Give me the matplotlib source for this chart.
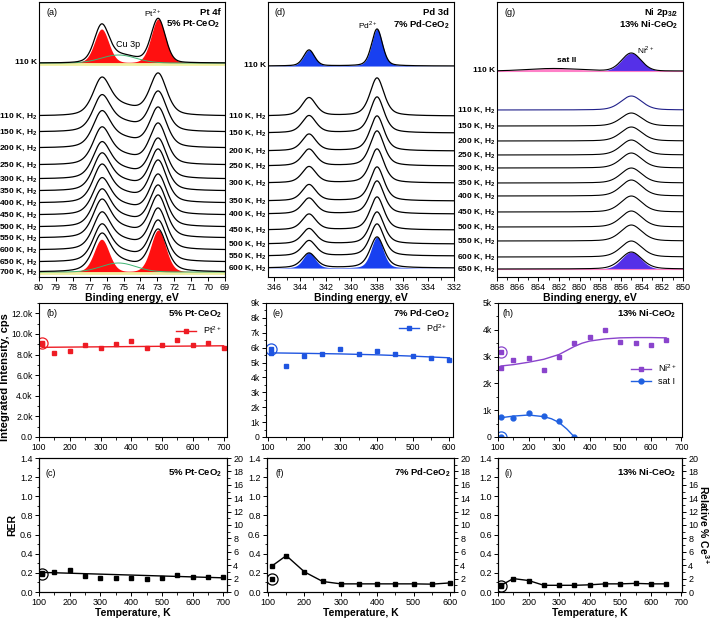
import numpy as np
import matplotlib
matplotlib.use("Agg")
import matplotlib.pyplot as plt
import matplotlib.transforms as mtransforms
from matplotlib.lines import Line2D
from matplotlib.ticker import MultipleLocator, FuncFormatter

plt.rcParams["font.family"] = ["Liberation Sans", "DejaVu Sans"]
plt.rcParams["mathtext.fontset"] = "custom"
plt.rcParams["mathtext.rm"] = "Liberation Sans"
plt.rcParams["mathtext.bf"] = "Liberation Sans:bold"
plt.rcParams["axes.linewidth"] = 0.8

# ---------------- top row : XPS spectra (peak positions / heights)
PT_STACK_T = [110, 150, 200, 250, 300, 350, 400, 450, 500, 550, 600, 650, 700]
PT_OFFSET = [161, 145, 129, 112, 98, 86, 74, 62, 50, 39, 27, 15, 5]
PT_PEAK_H = [42, 40, 40, 41, 40, 41, 42, 40, 41, 42, 41, 41, 42]
PT_TOP_OFFSET = 214
PT_POS = [76.3, 72.95]          # Pt 4f5/2, Pt 4f7/2
PT_TOP_H = [34, 44]
CU_POS, CU_H = 75.3, 8

PD_STACK_T = [110, 150, 200, 250, 300, 350, 400, 450, 500, 550, 600]
PD_OFFSET = [161, 144, 126, 111, 94, 76, 63, 47, 33, 21, 9]
PD_PEAK_H = [38, 36, 35, 35, 34, 34, 33, 33, 32, 32, 31]
PD_TOP_OFFSET = 211
PD_POS = [343.3, 338.0]         # Pd 3d3/2, Pd 3d5/2
PD_TOP_H = [16, 37]

NI_STACK_T = [110, 150, 200, 250, 300, 350, 400, 450, 500, 550, 600, 650]
NI_OFFSET = [167, 151, 136, 122, 109, 94, 81, 65, 50, 36, 20, 8]
NI_PEAK_H = [14, 13, 14, 15, 15, 15, 16, 16, 16, 16, 16, 17]
NI_TOP_OFFSET = 206
NI_POS, NI_TOP_H = 855.0, 18
SAT2_POS, SAT2_H = 862.5, 2.5

# ---------------- middle row : integrated intensity, cps
PT_T = [110, 150, 200, 250, 300, 350, 400, 450, 500, 550, 600, 650, 700]
PT_INT = [9000, 8150, 8350, 8900, 8650, 9050, 9300, 8650, 8900, 9450, 8950, 9100, 8650]
PT_INT_REF = 9100
PT_FIT_T = [110, 700]
PT_FIT = [8700, 8850]

PD_T = [110, 150, 200, 250, 300, 350, 400, 450, 500, 550, 600]
PD_INT = [5650, 4800, 5450, 5600, 5900, 5550, 5800, 5550, 5450, 5300, 5150]
PD_INT_REF = 5900
PD_FIT_T = [110, 200, 300, 400, 500, 600]
PD_FIT = [5650, 5620, 5580, 5520, 5430, 5320]

NI_T = [110, 150, 200, 250, 300, 350, 400, 450, 500, 550, 600, 650]
NI_INT = [2580, 2870, 2950, 2500, 3000, 3520, 3720, 3980, 3550, 3500, 3430, 3620]
NI_INT_REF = 3180
NI_FIT_T = [110, 150, 200, 250, 300, 325, 350, 375, 400, 450, 500, 550, 600, 650]
NI_FIT = [2650, 2700, 2790, 2900, 3080, 3230, 3380, 3500, 3580, 3660, 3700, 3710, 3710, 3700]

SAT_T = [110, 150, 200, 250, 300, 350]
SAT_INT = [750, 720, 880, 780, 600, 0]
SAT_INT_REF = 0
SAT_FIT_T = [110, 150, 200, 250, 275, 300, 325, 350]
SAT_FIT = [720, 780, 820, 760, 680, 540, 300, 0]

# ---------------- bottom row : RER
PT_RER = [0.20, 0.21, 0.225, 0.17, 0.145, 0.145, 0.145, 0.14, 0.145, 0.18, 0.155, 0.155, 0.155]
PT_RER_REF = 0.19
PT_RER_FIT_T = [110, 700]
PT_RER_FIT = [0.205, 0.148]
PD_RER = [0.27, 0.38, 0.21, 0.11, 0.085, 0.085, 0.085, 0.085, 0.085, 0.082, 0.095]
PD_RER_REF = 0.14
NI_RER = [0.07, 0.14, 0.12, 0.07, 0.07, 0.07, 0.075, 0.085, 0.085, 0.09, 0.085, 0.085]
NI_RER_REF = 0.065

RED = "#ee1c24"
PD_BLUE = "#1f55e0"
PD_FILL = "#1840f0"
NI_PURPLE = "#8a44cc"
NI_FILL = "#5530e8"
SAT_BLUE = "#2060e0"
PINK = "#ff80c8"
GREEN = "#3cb371"

fig = plt.figure(figsize=(7.14, 6.19), dpi=100)
W, H = 714.0, 619.0


def rect(x0, y0, x1, y1):
    return [x0 / W, 1 - y1 / H, (x1 - x0) / W, (y1 - y0) / H]


def pv(e, center, height, fwhm, eta=0.3):
    x = 2.0 * (e - center) / fwhm
    return height * ((1 - eta) * np.exp(-np.log(2) * x ** 2) + eta / (1 + x ** 2))


def spec_axes(r, xlim, major, minor):
    ax = fig.add_axes(r)
    ax.set_xlim(*xlim)
    ax.set_ylim(0, 275)
    ax.set_yticks([])
    ax.xaxis.set_major_locator(MultipleLocator(major))
    if minor:
        ax.xaxis.set_minor_locator(MultipleLocator(minor))
    ax.tick_params(axis="x", labelsize=6.5, length=3, width=0.7, pad=1.5)
    ax.tick_params(axis="x", which="minor", length=1.8, width=0.6)
    ax.set_xlabel("Binding energy, eV", fontsize=7.5, fontweight="bold", labelpad=0.5)
    return ax


def stack_labels(ax, offsets, temps, top_offset):
    tr = mtransforms.blended_transform_factory(ax.transAxes, ax.transData)
    kw = dict(transform=tr, ha="right", va="center", fontsize=6, fontweight="bold")
    ax.text(-0.012, top_offset, "110 K", **kw)
    for off, t in zip(offsets, temps):
        ax.text(-0.012, off, f"{t} K, H$_\\mathbf{{2}}$", **kw)


def titles(ax, letter, line1, line2, y1, y2, xr=0.975, xl=0.04):
    ax.text(xl, y1, letter, transform=ax.transAxes, fontsize=6.5, va="center")
    if line1:
        ax.text(xr, y1, line1, transform=ax.transAxes, fontsize=6.8,
                fontweight="bold", ha="right", va="center")
    ax.text(xr, y2, line2, transform=ax.transAxes, fontsize=6.8,
            fontweight="bold", ha="right", va="center")


# ================= (a) Pt 4f
ax = spec_axes(rect(39, 2, 225, 277), (80, 69), 1, None)
E = np.linspace(80, 69, 700)
b = PT_TOP_OFFSET
p1 = pv(E, PT_POS[0], PT_TOP_H[0], 1.0, 0.2)
p2 = pv(E, PT_POS[1], PT_TOP_H[1], 1.0, 0.2)
cu = pv(E, CU_POS, CU_H, 2.4, 0.0)
ax.plot(E, np.full_like(E, b - 1.5), color="#f0f0a0", lw=2)
ax.fill_between(E, b, b + p1, color="#ff1010", lw=0)
ax.fill_between(E, b, b + p2, color="#ff1010", lw=0)
ax.plot(E, b + cu, color=GREEN, lw=0.7)
ax.plot(E, b + p1 + p2 + cu, color="k", lw=0.9)
for i, (off, h) in enumerate(zip(PT_OFFSET, PT_PEAK_H)):
    a1 = pv(E, PT_POS[0], 0.78 * h, 1.2, 0.45)
    a2 = pv(E, PT_POS[1], h, 1.2, 0.45)
    c = pv(E, CU_POS, 9, 2.4, 0.0)
    if i == len(PT_OFFSET) - 1:
        ax.plot(E, np.full_like(E, off - 1.5), color="#f0f0a0", lw=2)
        ax.fill_between(E, off, off + pv(E, PT_POS[0], 0.78 * h, 1.05, 0.2), color="#ff1010", lw=0)
        ax.fill_between(E, off, off + pv(E, PT_POS[1], h, 1.05, 0.2), color="#ff1010", lw=0)
        ax.plot(E, off + c, color=GREEN, lw=0.7)
    ax.plot(E, off + a1 + a2 + c, color="k", lw=0.9)
stack_labels(ax, PT_OFFSET, PT_STACK_T, PT_TOP_OFFSET)
titles(ax, "(a)", "Pt 4f", "5% Pt-CeO$_\\mathbf{2}$", 0.962, 0.918)
ax.text(73.3, 264, "Pt$^{2+}$", fontsize=6, ha="center", va="center")
ax.text(74.75, 232, "Cu 3p", fontsize=6.5, ha="center", va="center")

# ================= (d) Pd 3d
ax = spec_axes(rect(268, 2, 454, 277), (346.5, 332), 2, 1)
E = np.linspace(346.5, 332, 700)
b = PD_TOP_OFFSET
p1 = pv(E, PD_POS[0], PD_TOP_H[0], 1.0, 0.3)
p2 = pv(E, PD_POS[1], PD_TOP_H[1], 1.0, 0.3)
ax.fill_between(E, b, b + p1, color=PD_FILL, lw=0)
ax.fill_between(E, b, b + p2, color=PD_FILL, lw=0)
ax.plot(E, b + p1 + p2, color="k", lw=0.9)
for i, (off, h) in enumerate(zip(PD_OFFSET, PD_PEAK_H)):
    a1 = pv(E, PD_POS[0], 0.48 * h, 1.3, 0.5)
    a2 = pv(E, PD_POS[1], h, 1.3, 0.5)
    if i == len(PD_OFFSET) - 1:
        ax.fill_between(E, off, off + pv(E, PD_POS[0], 0.5 * h, 1.1, 0.3), color=PD_FILL, lw=0)
        ax.fill_between(E, off, off + pv(E, PD_POS[1], h, 1.1, 0.3), color=PD_FILL, lw=0)
    ax.plot(E, off + a1 + a2, color="k", lw=0.9)
stack_labels(ax, PD_OFFSET, PD_STACK_T, PD_TOP_OFFSET)
titles(ax, "(d)", "Pd 3d", "7% Pd-CeO$_\\mathbf{2}$", 0.962, 0.918, xl=0.035)
ax.text(338.7, 252, "Pd$^{2+}$", fontsize=6, ha="center", va="center")

# ================= (g) Ni 2p3/2
ax = spec_axes(rect(497, 2, 683, 277), (868, 850), 2, 1)
E = np.linspace(868, 850, 700)
b = NI_TOP_OFFSET
pk = pv(E, NI_POS, NI_TOP_H, 2.2, 0.1)
s2 = pv(E, SAT2_POS, SAT2_H, 6.0, 0.0)
ax.fill_between(E, b, b + s2, color=PINK, lw=0)
ax.fill_between(E, b, b + pk, color=NI_FILL, lw=0)
ax.plot(E, np.full_like(E, b), color=PINK, lw=0.8)
ax.plot(E, b + pk + s2, color="k", lw=0.8)
for i, (off, h) in enumerate(zip(NI_OFFSET, NI_PEAK_H)):
    y = off + pv(E, NI_POS, h, 2.4, 0.3)
    if i == len(NI_OFFSET) - 1:
        ax.fill_between(E, off, off + pv(E, NI_POS, h, 2.2, 0.1), color=NI_FILL, lw=0)
        ax.plot(E, np.full_like(E, off), color=PINK, lw=0.8)
    ax.plot(E, y, color="#20208a" if i == 0 else "k", lw=0.8)
stack_labels(ax, NI_OFFSET, NI_STACK_T, NI_TOP_OFFSET)
titles(ax, "(g)", "Ni 2p$_{\\mathbf{3/2}}$", "13% Ni-CeO$_\\mathbf{2}$", 0.962, 0.918)
ax.text(861.3, 216, "sat II", fontsize=6, fontweight="bold", ha="center", va="center")
ax.text(854.5, 227, "Ni$^{2+}$", fontsize=6, ha="left", va="center")


# ================= middle row
def mid_axes(r, xlim, ylim, ymajor, fmt):
    ax = fig.add_axes(r)
    ax.set_xlim(*xlim)
    ax.set_ylim(*ylim)
    ax.xaxis.set_major_locator(MultipleLocator(100))
    ax.xaxis.set_minor_locator(MultipleLocator(50))
    ax.yaxis.set_major_locator(MultipleLocator(ymajor))
    ax.yaxis.set_minor_locator(MultipleLocator(ymajor / 2))
    ax.yaxis.set_major_formatter(FuncFormatter(fmt))
    ax.tick_params(labelsize=6.2, length=3, width=0.7, pad=1.5)
    ax.tick_params(which="minor", length=1.8, width=0.6)
    return ax


fmt_b = lambda v, p: "0.0" if v == 0 else f"{v / 1000:.1f}k"
fmt_k = lambda v, p: "0" if v == 0 else f"{v / 1000:.0f}k"

ax = mid_axes(rect(39, 303, 227, 437), (100, 711), (0, 13000), 2000, fmt_b)
ax.plot(PT_FIT_T, PT_FIT, color=RED, lw=1)
ax.plot(PT_T, PT_INT, "s", color=RED, ms=3.5)
ax.plot([110], [PT_INT_REF], "s", color=RED, ms=3.5)
ax.plot([110], [PT_INT_REF], "o", mfc="none", mec=RED, ms=8, mew=0.9)
ax.legend([Line2D([], [], color=RED, marker="s", ms=3.5, lw=1)], ["Pt$^{2+}$"],
          loc="upper right", bbox_to_anchor=(1.0, 0.88), frameon=False,
          fontsize=6.5, handlelength=2.2, borderaxespad=0.2)
ax.set_ylabel("Integrated Intensity, cps", fontsize=8, fontweight="bold")
ax.yaxis.set_label_coords(-0.152, 0.45)
titles(ax, "(b)", None, "5% Pt-CeO$_\\mathbf{2}$", 0.918, 0.918)

ax = mid_axes(rect(266, 303, 453, 437), (95, 610), (0, 9000), 1000, fmt_k)
ax.plot(PD_FIT_T, PD_FIT, color=PD_BLUE, lw=1)
ax.plot(PD_T, PD_INT, "s", color=PD_BLUE, ms=3.5)
ax.plot([110], [PD_INT_REF], "s", color=PD_BLUE, ms=3.5)
ax.plot([110], [PD_INT_REF], "o", mfc="none", mec=PD_BLUE, ms=8, mew=0.9)
ax.legend([Line2D([], [], color=PD_BLUE, marker="s", ms=3.5, lw=1)], ["Pd$^{2+}$"],
          loc="upper right", bbox_to_anchor=(1.0, 0.9), frameon=False,
          fontsize=6.5, handlelength=2.2, borderaxespad=0.2)
titles(ax, "(e)", None, "7% Pd-CeO$_\\mathbf{2}$", 0.918, 0.918, xr=0.985, xl=0.037)

ax = mid_axes(rect(498, 303, 682, 437), (100, 702), (0, 5000), 1000, fmt_k)
ax.plot(NI_FIT_T, NI_FIT, color=NI_PURPLE, lw=1)
ax.plot(NI_T, NI_INT, "s", color=NI_PURPLE, ms=3.5)
ax.plot([110], [NI_INT_REF], "s", color=NI_PURPLE, ms=3.5)
ax.plot([110], [NI_INT_REF], "o", mfc="none", mec=NI_PURPLE, ms=8, mew=0.9)
ax.plot(SAT_FIT_T, SAT_FIT, color=SAT_BLUE, lw=1)
ax.plot(SAT_T, SAT_INT, "o", color=SAT_BLUE, ms=3.5)
ax.plot([110], [SAT_INT_REF], "o", color=SAT_BLUE, ms=3.5)
ax.plot([110], [SAT_INT_REF], "o", mfc="none", mec=SAT_BLUE, ms=8, mew=0.9)
ax.legend([Line2D([], [], color=NI_PURPLE, marker="s", ms=3.5, lw=1),
           Line2D([], [], color=SAT_BLUE, marker="o", ms=3.5, lw=1)],
          ["Ni$^{2+}$", "sat I"], loc="center right", bbox_to_anchor=(1.0, 0.47),
          frameon=False, fontsize=6.5, handlelength=2.2, labelspacing=0.3,
          borderaxespad=0.2)
titles(ax, "(h)", None, "13% Ni-CeO$_\\mathbf{2}$", 0.918, 0.918, xl=0.027, xr=0.97)


# ================= bottom row
def rer_axes(r, xlim, t, rer, ref, color="k", right_label=False):
    ax = fig.add_axes(r)
    ax.set_xlim(*xlim)
    ax.set_ylim(0, 1.4)
    ax.xaxis.set_major_locator(MultipleLocator(100))
    ax.xaxis.set_minor_locator(MultipleLocator(50))
    ax.yaxis.set_major_locator(MultipleLocator(0.2))
    ax.yaxis.set_minor_locator(MultipleLocator(0.1))
    ax.yaxis.set_major_formatter(FuncFormatter(lambda v, p: f"{v:.1f}"))
    ax.tick_params(labelsize=6.5, length=3, width=0.7, pad=1.5)
    ax.tick_params(which="minor", length=1.8, width=0.6)
    ax.plot(t, rer, "s", color=color, ms=3.5)
    ax.plot([110], [ref], "s", color=color, ms=3.5)
    ax.plot([110], [ref], "o", mfc="none", mec=color, ms=8, mew=0.9)
    ax.set_xlabel("Temperature, K", fontsize=7.5, fontweight="bold", labelpad=0.5)
    ax2 = ax.twinx()
    ax2.set_ylim(0, 20)
    ax2.yaxis.set_major_locator(MultipleLocator(2))
    ax2.yaxis.set_minor_locator(MultipleLocator(1))
    ax2.tick_params(labelsize=6.5, length=3, width=0.7, pad=1.5)
    ax2.tick_params(which="minor", length=1.8, width=0.6)
    if right_label:
        ax2.set_ylabel("Relative % Ce$^{\\mathbf{3+}}$", fontsize=7.5,
                       fontweight="bold", rotation=270, labelpad=9)
    return ax


ax = rer_axes(rect(39, 458, 227, 592), (100, 712), PT_T, PT_RER, PT_RER_REF)
ax.plot(PT_RER_FIT_T, PT_RER_FIT, color="k", lw=1)
ax.set_ylabel("RER", fontsize=7.5, fontweight="bold", labelpad=2)
titles(ax, "(c)", None, "5% Pt-CeO$_\\mathbf{2}$", 0.888, 0.888, xl=0.037)

ax = rer_axes(rect(267, 458, 454, 592), (97, 611), PD_T, PD_RER, PD_RER_REF)
ax.plot(PD_T, PD_RER, color="k", lw=1)
titles(ax, "(f)", None, "7% Pd-CeO$_\\mathbf{2}$", 0.888, 0.888, xr=0.98, xl=0.043)

ax = rer_axes(rect(498, 458, 682, 592), (100, 702), NI_T, NI_RER, NI_RER_REF,
              right_label=True)
ax.plot(NI_T, NI_RER, color="k", lw=1)
titles(ax, "(i)", None, "13% Ni-CeO$_\\mathbf{2}$", 0.888, 0.888, xr=0.97, xl=0.038)

fig.savefig("out.png", dpi=100)
